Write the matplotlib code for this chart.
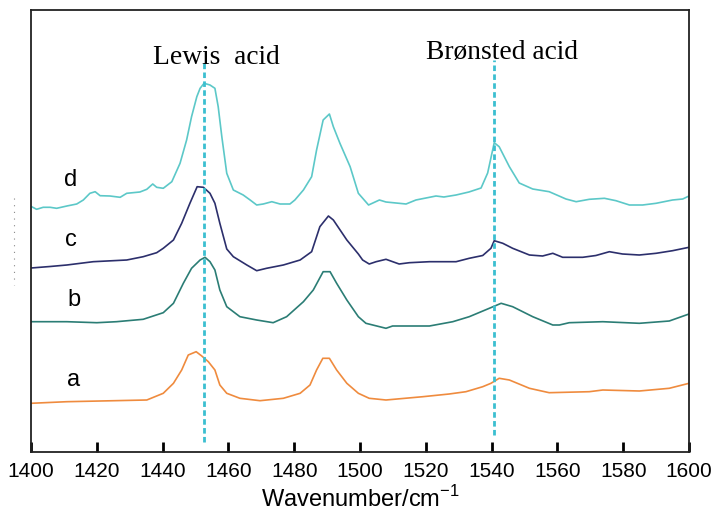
import matplotlib
matplotlib.use("Agg")
import matplotlib.pyplot as plt
from matplotlib.lines import Line2D

plt.rcParams["mathtext.fontset"] = "custom"
plt.rcParams["mathtext.rm"] = "Liberation Sans"

# spectra (wavenumber, arbitrary intensity)
wn_a = [1400, 1410.9, 1421, 1435.2, 1440.2, 1443.3, 1445.8, 1447.8, 1450.2, 1451.9, 1453.9,
        1455.9, 1457.4, 1459.5, 1463.5, 1469.6, 1476.7, 1481.8, 1484.8, 1486.8, 1488.7, 1490.7,
        1492.9, 1496, 1499.5, 1502.8, 1507.9, 1519.1, 1527.1, 1532.2, 1537.3, 1539.8, 1542.3,
        1545.4, 1551.5, 1557.5, 1569.7, 1573.8, 1584.9, 1594, 1600]
int_a = [48.7, 50.3, 51, 52, 58.7, 68.7, 82, 97, 100.3, 96, 90.3,
         82, 67, 58.7, 53.7, 51.3, 53.7, 58.7, 67, 82, 93.7, 93.7,
         82, 68.7, 58.7, 53.7, 52, 55.3, 58, 60.3, 65.3, 68.7, 73.7,
         72, 63.7, 59.3, 60.3, 62, 61, 63.7, 68.7]

wn_b = [1400, 1410.9, 1420, 1426, 1434.1, 1440.2, 1443.3, 1446.3, 1448.8, 1451.4, 1452.9,
        1454.4, 1455.9, 1457.4, 1459.5, 1463.5, 1468.6, 1473.6, 1477.7, 1482.8, 1485.8, 1488.8,
        1490.9, 1492.9, 1496, 1499.5, 1501.8, 1507.9, 1509.9, 1514, 1521.1, 1528.2, 1533.2,
        1539.3, 1542.9, 1546.4, 1552.5, 1558.6, 1560.6, 1563.6, 1573.8, 1584.9, 1594, 1600]
int_b = [130.3, 130.3, 129.3, 130.3, 132.7, 139.3, 148.7, 168.7, 183.7, 192, 194.7,
         190.3, 182, 162, 145.3, 135.3, 132, 129.3, 135.3, 150.3, 162, 180.3,
         180.3, 168.7, 152, 135.3, 128.7, 123.7, 126, 126, 126, 130.3, 135.3,
         143.7, 148.7, 145.3, 135.3, 127, 127, 129.3, 130.3, 128.7, 131, 138]

wn_c = [1400, 1405.8, 1410.9, 1418.9, 1429.1, 1434.1, 1438.2, 1440.2, 1443.3, 1445.8, 1448.3,
        1450.5, 1452.4, 1454.4, 1455.9, 1457.4, 1459.5, 1461.5, 1465.6, 1468.6, 1471.6, 1476.7,
        1481.8, 1485.3, 1487.8, 1490.4, 1491.9, 1496, 1499.5, 1500.8, 1502.8, 1504.9, 1507.9,
        1511.9, 1515, 1521.1, 1529.2, 1533.2, 1537.3, 1539.8, 1540.8, 1543.4, 1546.4, 1551.5,
        1555.5, 1558.6, 1561.6, 1567.7, 1571.7, 1575.8, 1579.8, 1584.9, 1590, 1595, 1600]
int_c = [184, 185.5, 187, 190.3, 192, 195.3, 199.3, 203.7, 212, 228.7, 248.7,
         265.3, 264.7, 258.7, 248.7, 228.7, 203, 195.3, 187, 181.3, 183.7, 187,
         192, 200.3, 225.3, 236, 232, 212, 198, 192, 188, 190.3, 192.7,
         188, 189.3, 190.3, 190.3, 193.7, 196.5, 203.7, 211.3, 208.7, 203.7, 197,
         196, 198.7, 194.7, 194.7, 196.5, 200.3, 198, 197, 198.7, 201.3, 204.7]

wn_d = [1400.2, 1401.7, 1403.7, 1405.8, 1407.8, 1410.9, 1413.9, 1415.9, 1417.9, 1419.5, 1421,
        1424, 1427.1, 1429.1, 1433.1, 1435.2, 1437, 1438.2, 1440.2, 1442.8, 1445.3, 1447.3,
        1448.8, 1450.4, 1451.4, 1452.6, 1454.4, 1455.9, 1456.9, 1458, 1459.5, 1461.5, 1464.5,
        1466.6, 1468.6, 1470.6, 1473.2, 1475.7, 1478.7, 1480.2, 1482.8, 1485.3, 1486.8, 1488.8,
        1490.7, 1491.9, 1493.9, 1497, 1499.5, 1502.6, 1505.9, 1507.9, 1514, 1517, 1523.1,
        1525.5, 1529.2, 1533.1, 1536.8, 1538.8, 1540.8, 1542.3, 1545.4, 1548.4, 1552.5, 1557.5,
        1562.6, 1565.7, 1569.7, 1574.3, 1577.8, 1581.9, 1585.9, 1590, 1595, 1598.1, 1600]
int_d = [245.3, 242.7, 244.7, 244.7, 243.7, 246, 248, 252, 258.7, 260.3, 256.3,
         256, 254.7, 258.7, 260, 262.7, 268, 264.7, 263.7, 270.3, 288.7, 312,
         335.3, 355.3, 363.7, 368.7, 367, 363.7, 345.3, 315.3, 278.7, 262, 257,
         252, 247, 248, 250.3, 248, 248, 252, 262, 275.3, 302, 332,
         338, 325.3, 308.7, 285.3, 258.7, 247, 252, 250, 248, 252, 256,
         255, 257, 260, 264, 279, 309.3, 305.3, 285.3, 269, 263, 260.3,
         253, 250.3, 252.7, 253.7, 251.3, 247, 247, 248.7, 252, 253, 256]

names = ["a", "b", "c", "d"]
colors = ["#ef8b3e", "#2b7d75", "#2c2f6c", "#5cc8c8"]
label_pos = [(1413, 72), (1413, 152), (1412, 212), (1412, 272)]

acid_names = ["Lewis  acid", "Brønsted acid"]
acid_wn = [1452.7, 1540.6]

fig = plt.figure(figsize=(7.16, 5.15), dpi=100)
ax = fig.add_axes([31 / 716, 1 - 452 / 515, 658 / 716, 442 / 515])

series = [(wn_a, int_a), (wn_b, int_b), (wn_c, int_c), (wn_d, int_d)]
for (x, y), col in zip(series, colors):
    ax.plot(x, y, color=col, lw=1.2)

for name, col, (tx, ty) in zip(names, colors, label_pos):
    ax.text(tx, ty, name, fontsize=17, family="Liberation Sans",
            ha="center", va="center", color="black")

ax.vlines(acid_wn[0], 10, 392, colors="#3bbfd0", lw=2, linestyles=(0, (2, 1.2)))
ax.vlines(acid_wn[1], 17, 392, colors="#3bbfd0", lw=2, linestyles=(0, (2, 1.2)))
ax.text(1456.2, 395, acid_names[0], fontsize=19.8, family="Liberation Serif",
        ha="center", va="center")
ax.text(1543.2, 399, acid_names[1], fontsize=19.8, family="Liberation Serif",
        ha="center", va="center")

ax.set_xlim(1400, 1600)
ax.set_ylim(0, 442)
ax.set_xticks(range(1400, 1601, 20))
ax.set_yticks([])
ax.tick_params(axis="x", direction="in", length=7, width=2, pad=7,
               labelsize=15, top=False)
for lab in ax.get_xticklabels():
    lab.set_family("Liberation Sans")
for sp in ax.spines.values():
    sp.set_linewidth(1.3)
    sp.set_color("#222222")
ax.set_xlabel("Wavenumber/cm$^{\\mathregular{-1}}$", fontsize=17,
              family="Liberation Sans", labelpad=4)

# faint dotted marks left of the axes
fig.add_artist(Line2D([14 / 716, 14 / 716], [1 - 198 / 515, 1 - 285 / 515],
                      color="#888888", lw=0.8, ls=(0, (1, 5))))

fig.savefig("out.png", dpi=100)
